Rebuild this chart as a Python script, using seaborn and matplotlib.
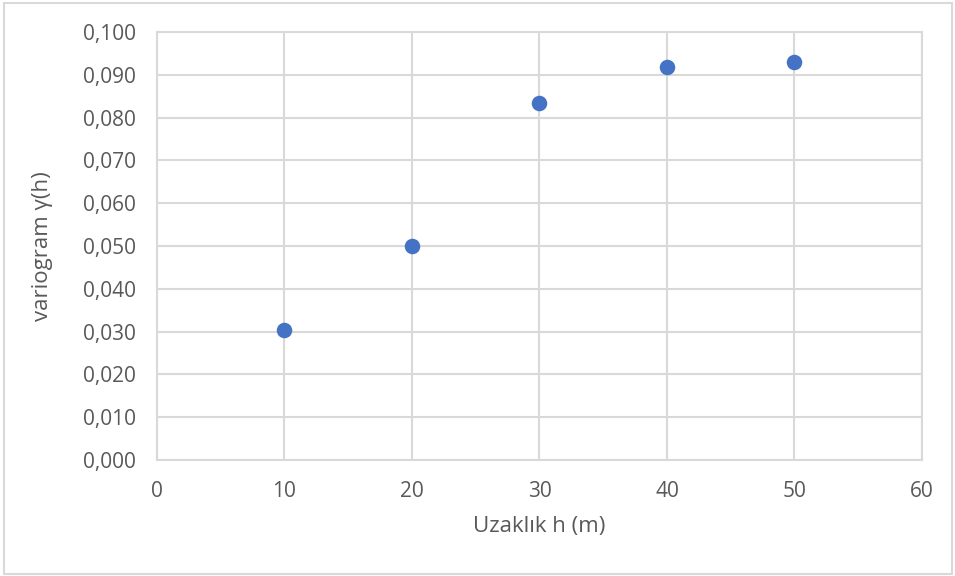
import matplotlib
matplotlib.use("Agg")
import matplotlib.pyplot as plt
import matplotlib.patches as patches
from matplotlib.ticker import FuncFormatter, MultipleLocator
import pandas as pd
import seaborn as sns

# lag distance (m) and variogram values
lags = [10, 20, 30, 40, 50]
gamma = [0.0304, 0.0500, 0.0834, 0.0918, 0.0930]

x_label = "Uzaklık h (m)"
y_label = "variogram γ(h)"

textcolor = "#595959"
gridcolor = "#d9d9d9"
pointcolor = "#4472C4"

sns.set_theme(style="whitegrid")
plt.rcParams["font.family"] = ["Open Sans", "DejaVu Sans"]

df = pd.DataFrame({"h": lags, "gamma": gamma})

fig = plt.figure(figsize=(9.55, 5.76), dpi=100, facecolor="white")
ax = fig.add_axes([0.1644, 0.2014, 0.801, 0.7430])

sns.scatterplot(data=df, x="h", y="gamma", ax=ax, color=pointcolor, s=125,
                edgecolor=pointcolor, linewidth=0, zorder=3)

ax.set_xlim(0, 60)
ax.set_ylim(0, 0.1)
ax.xaxis.set_major_locator(MultipleLocator(10))
ax.yaxis.set_major_locator(MultipleLocator(0.01))
ax.yaxis.set_major_formatter(FuncFormatter(lambda v, p: f"{v:.3f}".replace(".", ",")))

ax.grid(True, color=gridcolor, linewidth=1.5)
for side in ["left", "right", "top", "bottom"]:
    ax.spines[side].set_color(gridcolor)
    ax.spines[side].set_linewidth(1.5)
ax.tick_params(axis="both", colors=textcolor, labelsize=15, length=0)
ax.tick_params(axis="y", pad=15)
ax.tick_params(axis="x", pad=15)

ax.set_xlabel(x_label, fontsize=16, color=textcolor, labelpad=10)
ax.set_ylabel(y_label, fontsize=16, color=textcolor, labelpad=22)

# chart area border
fig.patches.append(patches.Rectangle((0.004, 0.003), 0.993, 0.992, transform=fig.transFigure,
                                     fill=False, edgecolor=gridcolor, linewidth=1.5))

fig.savefig("out.png", dpi=100, facecolor="white")
